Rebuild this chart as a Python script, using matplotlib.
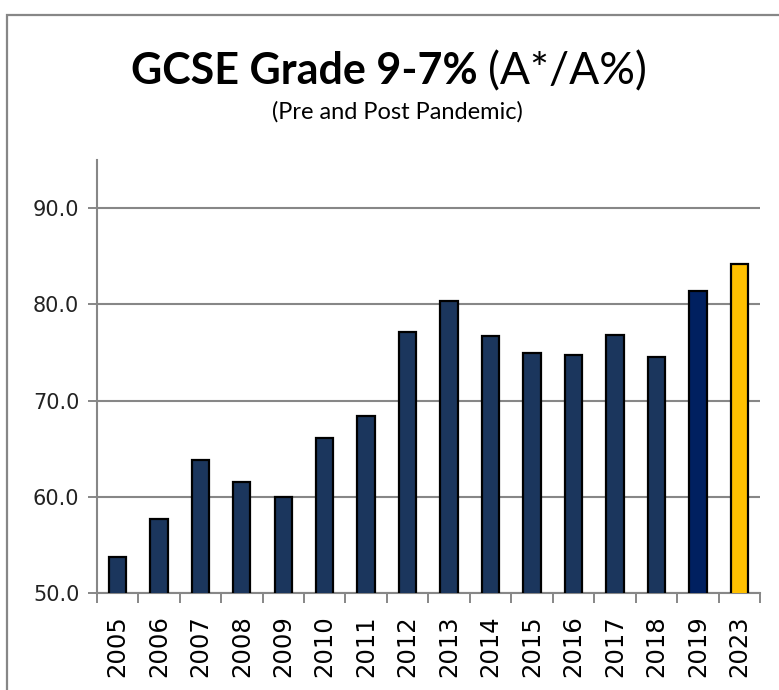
import matplotlib.pyplot as plt
from matplotlib.patches import Rectangle

years = ['2005', '2006', '2007', '2008', '2009', '2010', '2011', '2012',
         '2013', '2014', '2015', '2016', '2017', '2018', '2019', '2023']
values = [53.8, 57.7, 63.8, 61.6, 60.0, 66.1, 68.4, 77.1,
          80.4, 76.7, 75.0, 74.8, 76.8, 74.5, 81.4, 84.2]
colors = ['#1B365D'] * 14 + ['#002060', '#FFC000']
yticks = [50, 60, 70, 80, 90]

grey = '#878787'

fig = plt.figure(figsize=(7.79, 6.9), dpi=100)
ax = fig.add_axes([0.1241, 0.1401, 0.9756 - 0.1241, 0.768 - 0.1401])

x = range(len(years))
ax.bar(x, values, width=0.42, color=colors, edgecolor='black', linewidth=1.6, zorder=3)

ax.set_xlim(-0.5, len(years) - 0.5)
ax.set_ylim(50, 95)
ax.set_yticks(yticks)
ax.set_yticklabels([f'{v:.1f}' for v in yticks], fontsize=15, color='#222222')
ax.set_xticks(list(x))
ax.set_xticklabels(years, rotation=90, fontsize=17.5, color='black')
ax.set_xticks([i - 0.5 for i in range(len(years) + 1)], minor=True)
ax.tick_params(axis='x', which='major', length=0, pad=16)
ax.tick_params(axis='x', which='minor', length=7, width=1.4, color=grey, direction='out')
ax.tick_params(axis='y', length=6.5, width=1.4, color=grey, pad=6)

ax.grid(axis='y', color=grey, linewidth=1.5, zorder=0)
for s in ['top', 'right']:
    ax.spines[s].set_visible(False)
for s in ['left', 'bottom']:
    ax.spines[s].set_color(grey)
    ax.spines[s].set_linewidth(1.5)

# title: bold part and normal part
fig.text(478 / 779, 1 - 84 / 690, 'GCSE Grade 9-7%', ha='right', va='baseline',
         fontsize=31, fontweight='bold', family='Lato')
fig.text(488 / 779, 1 - 84 / 690, '(A*/A%)', ha='left', va='baseline',
         fontsize=32, family='Lato')
fig.text(397 / 779, 1 - 119 / 690, '(Pre and Post Pandemic)', ha='center', va='baseline',
         fontsize=17, family='Lato')

# chart border
fig.patches.append(Rectangle((7 / 779, -0.1), 1.2, 1.1 - 15 / 690, transform=fig.transFigure,
                             fill=False, edgecolor=grey, linewidth=1.6))

fig.savefig('out.png', dpi=100)
